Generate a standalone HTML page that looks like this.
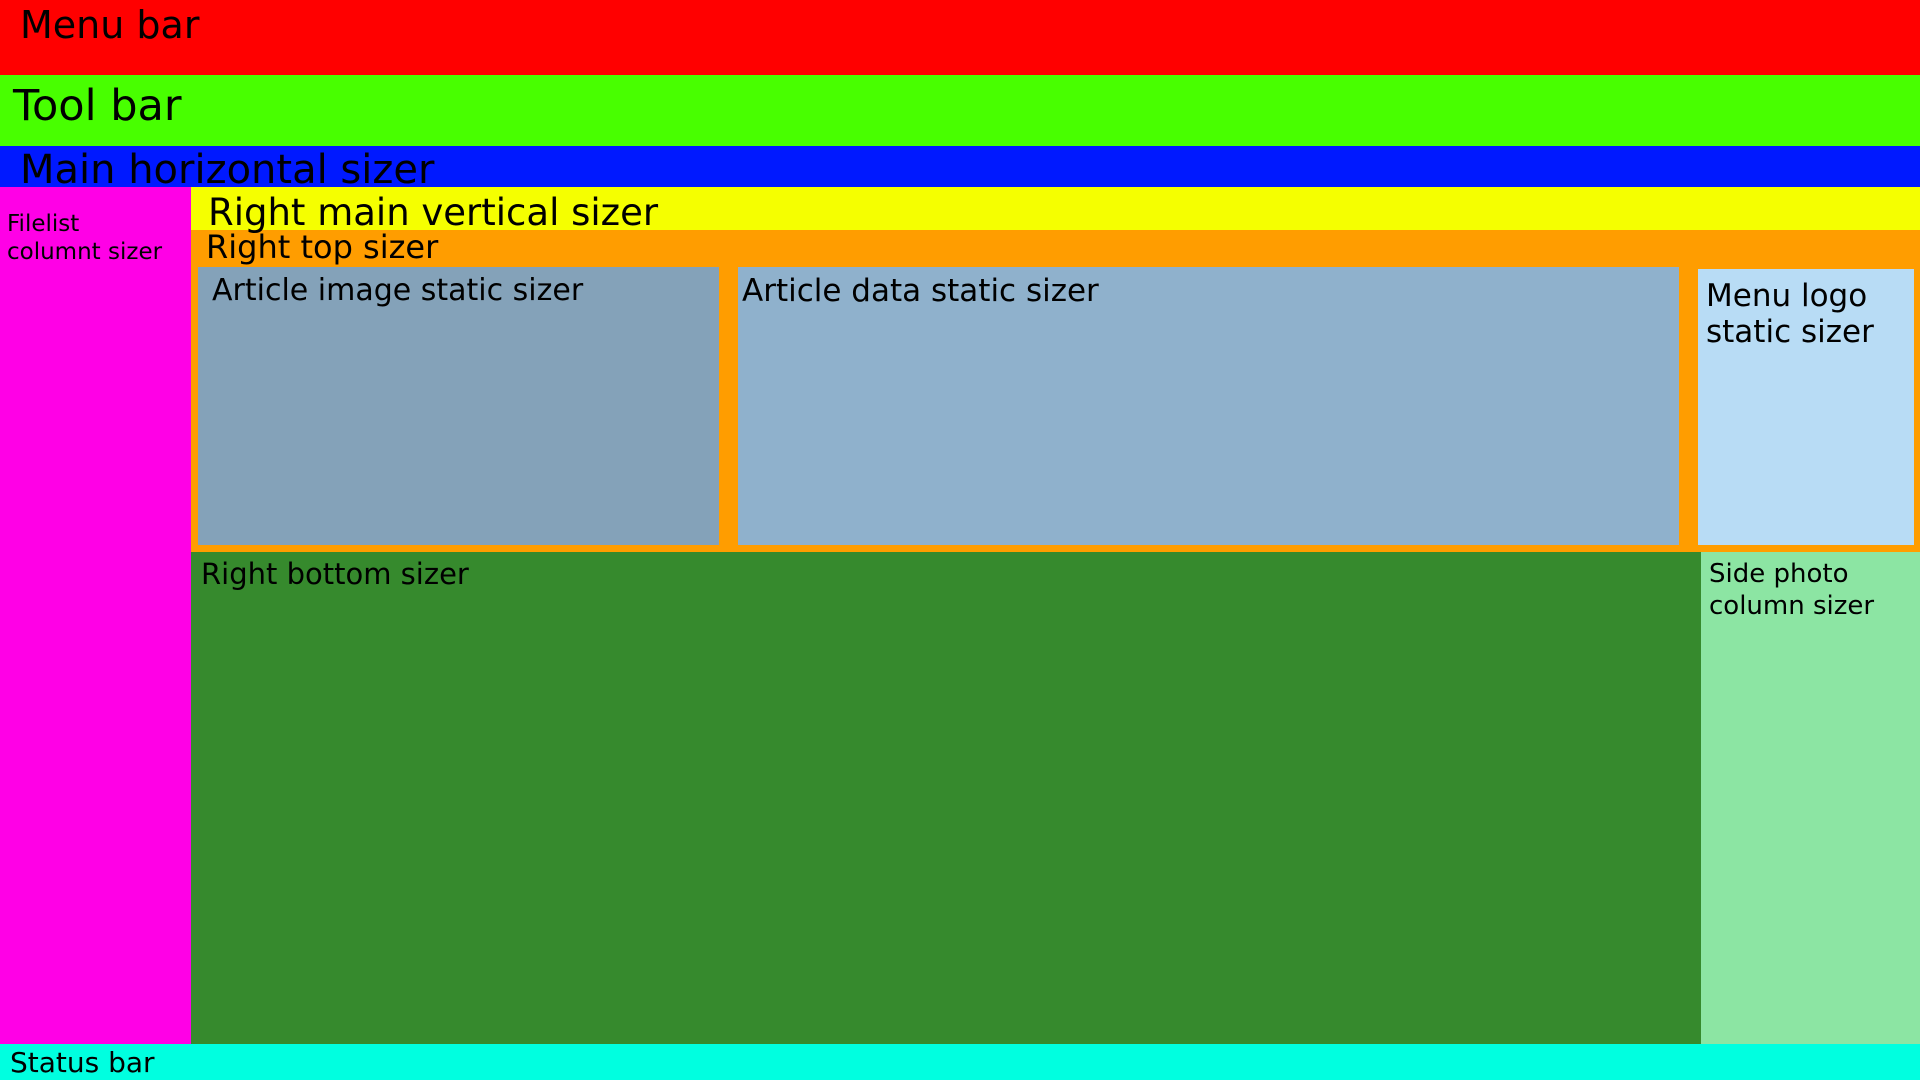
<!DOCTYPE html>
<html><head><meta charset="utf-8"><style>
body{margin:0;width:1920px;height:1080px;position:relative;overflow:hidden;font-family:"DejaVu Sans","Liberation Sans",sans-serif;color:#000}
div{position:absolute;box-sizing:border-box}
span{position:absolute;white-space:nowrap;line-height:1}
</style></head><body>
<div style="left:0;top:0;width:1920px;height:75px;background:#ff0000"></div>
<div style="left:0;top:75px;width:1920px;height:71px;background:#48ff00"></div>
<div style="left:0;top:146px;width:1920px;height:41px;background:#0019ff"></div>
<div style="left:0;top:187px;width:191px;height:857px;background:#ff00e6"></div>
<div style="left:0;top:1044px;width:1920px;height:36px;background:#00ffe0"></div>
<div style="left:191px;top:187px;width:1729px;height:43px;background:#f5ff00"></div>
<div style="left:191px;top:230px;width:1729px;height:322px;background:#ff9d00"></div>
<div style="left:198px;top:267px;width:521px;height:278px;background:#84a2b9"></div>
<div style="left:738px;top:267px;width:941px;height:278px;background:#8fb1cc"></div>
<div style="left:1698px;top:269px;width:216px;height:276px;background:#b8dcf5"></div>
<div style="left:191px;top:552px;width:1510px;height:492px;background:#368a2d"></div>
<div style="left:1701px;top:552px;width:219px;height:492px;background:#8ce5a3"></div>

<span style="left:20px;top:6px;font-size:38px">Menu bar</span>
<span style="left:13px;top:85px;font-size:43px">Tool bar</span>
<span style="left:20px;top:150px;font-size:40px">Main horizontal sizer</span>
<span style="left:7px;top:210px;font-size:23px;line-height:28px">Filelist<br>columnt sizer</span>
<span style="left:208px;top:194px;font-size:37px">Right main vertical sizer</span>
<span style="left:206px;top:231px;font-size:32px">Right top sizer</span>
<span style="left:212px;top:276px;font-size:30px">Article image static sizer</span>
<span style="left:742px;top:276px;font-size:31px">Article data static sizer</span>
<span style="left:1706px;top:278px;font-size:31px;line-height:36px">Menu logo<br>static sizer</span>
<span style="left:201px;top:560px;font-size:29px">Right bottom sizer</span>
<span style="left:1709px;top:558px;font-size:26px;line-height:32px">Side photo<br>column sizer</span>
<span style="left:10px;top:1049px;font-size:28px">Status bar</span>
</body></html>
